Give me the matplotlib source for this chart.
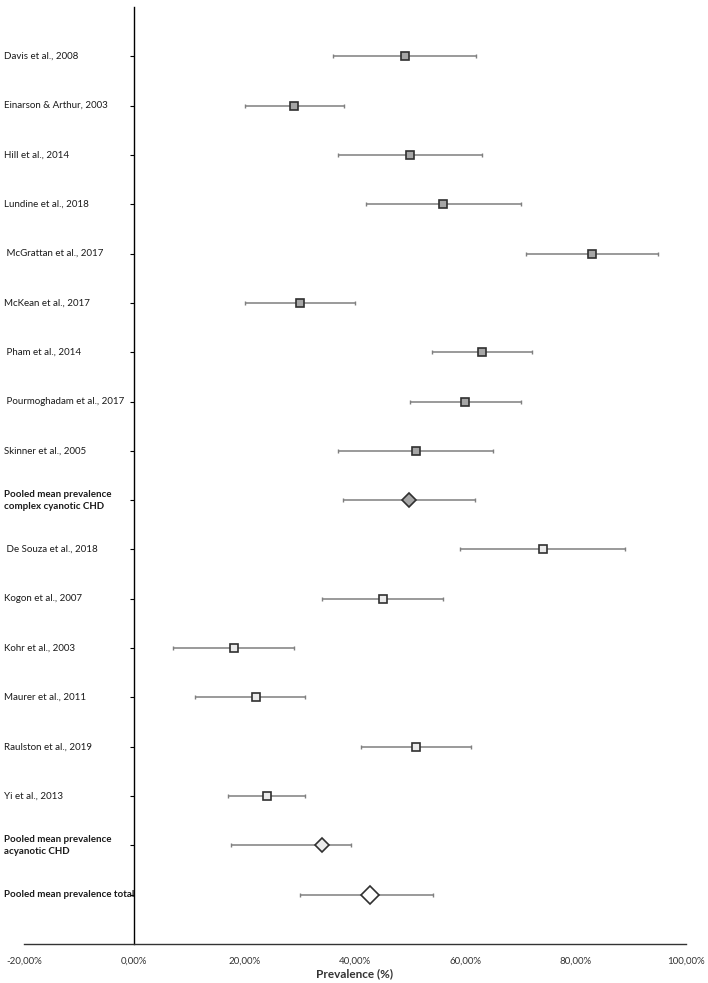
import matplotlib.pyplot as plt
import matplotlib.transforms as mtransforms
from matplotlib.ticker import FuncFormatter

plt.rcParams['font.family'] = ['Lato', 'DejaVu Sans']

studies = [
    "Davis et al., 2008",
    "Einarson & Arthur, 2003",
    "Hill et al., 2014",
    "Lundine et al., 2018",
    " McGrattan et al., 2017",
    "McKean et al., 2017",
    " Pham et al., 2014",
    " Pourmoghadam et al., 2017",
    "Skinner et al., 2005",
    "Pooled mean prevalence\ncomplex cyanotic CHD",
    " De Souza et al., 2018",
    "Kogon et al., 2007",
    "Kohr et al., 2003",
    "Maurer et al., 2011",
    "Raulston et al., 2019",
    "Yi et al., 2013",
    "Pooled mean prevalence\nacyanotic CHD",
    "Pooled mean prevalence total",
]
prevalence = [49, 29, 50, 56, 83, 30, 63, 60, 51, 49.7,
              74, 45, 18, 22, 51, 24, 34.1, 42.8]
ci_low = [36, 20, 37, 42, 71, 20, 54, 50, 37, 37.8,
          59, 34, 7, 11, 41, 17, 17.6, 30.1]
ci_high = [62, 38, 63, 70, 95, 40, 72, 70, 65, 61.8,
           89, 56, 29, 31, 61, 31, 39.3, 54.2]
# c = cyanotic study, a = acyanotic study, pc/pa/pt = pooled rows
kind = ["c"] * 9 + ["pc"] + ["a"] * 6 + ["pa", "pt"]
bold_rows = ["pc", "pa", "pt"]
x_ticks = [-20, 0, 20, 40, 60, 80, 100]

fig = plt.figure(figsize=(7.08, 9.83), dpi=100)
ax = fig.add_axes([24 / 708, 1 - 944 / 983, 662 / 708, 937 / 983])

ypos = list(range(1, len(studies) + 1))

style = {
    "c": dict(marker="s", ms=6.3, fc="#a6a6a6"),
    "a": dict(marker="s", ms=6.3, fc="#ebebeb"),
    "pc": dict(marker="D", ms=7.6, fc="#a6a6a6"),
    "pa": dict(marker="D", ms=7.6, fc="#ebebeb"),
    "pt": dict(marker="D", ms=9.4, fc="white"),
}

for y, k, p, lo, hi in zip(ypos, kind, prevalence, ci_low, ci_high):
    ax.errorbar(p, y, xerr=[[p - lo], [hi - p]], fmt="none",
                ecolor="#7f7f7f", elinewidth=1.1, capsize=1.3,
                capthick=1.0, zorder=2)
    s = style[k]
    ax.plot(p, y, linestyle="none", marker=s["marker"], ms=s["ms"],
            mfc=s["fc"], mec="#303030", mew=1.2, zorder=3)

trans = mtransforms.blended_transform_factory(fig.transFigure, ax.transData)
for y, k, name in zip(ypos, kind, studies):
    ax.text(4 / 708, y, name, transform=trans, ha="left", va="center",
            fontsize=7, color="#1a1a1a",
            fontweight="bold" if k in bold_rows else "normal",
            linespacing=1.45)

ax.set_xlim(-20, 100)
ax.set_ylim(len(studies) + 1, 0)
ax.set_xticks(x_ticks)
ax.xaxis.set_major_formatter(
    FuncFormatter(lambda v, _: f"{v:.2f}".replace(".", ",") + "%"))
ax.tick_params(axis="x", length=0, labelsize=7, pad=9, colors="#333333")
ax.set_yticks(ypos)
ax.set_yticklabels([])
ax.tick_params(axis="y", length=3, width=0.8, direction="out")

ax.spines["top"].set_visible(False)
ax.spines["right"].set_visible(False)
ax.spines["left"].set_position(("data", 0))
ax.spines["left"].set_linewidth(1.0)
ax.spines["bottom"].set_linewidth(1.0)
ax.spines["bottom"].set_color("#333333")

ax.set_xlabel("Prevalence (%)", fontsize=8.5, fontweight="bold",
              color="#333333", labelpad=2)

fig.savefig("out.png", dpi=100)
